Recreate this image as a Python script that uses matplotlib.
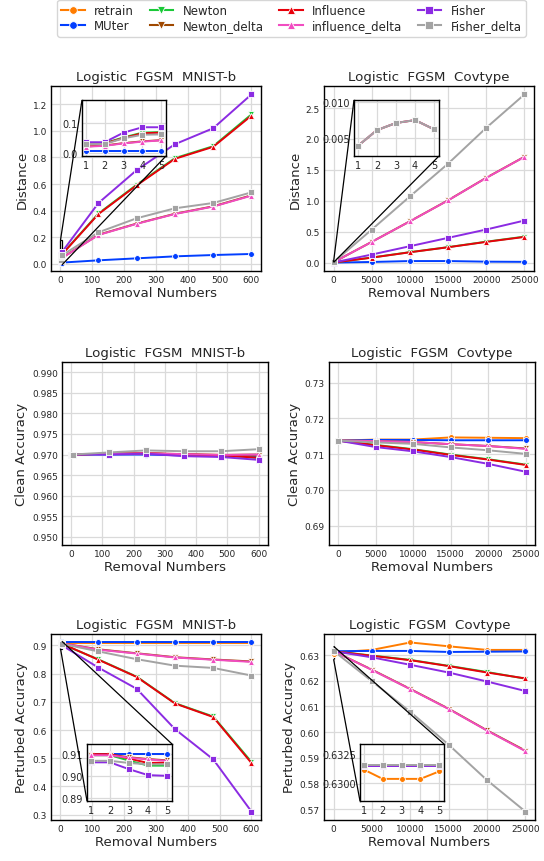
import matplotlib.pyplot as plt
from matplotlib.lines import Line2D
from mpl_toolkits.axes_grid1.inset_locator import mark_inset

W, H = 544, 862

methods = ['retrain', 'MUter', 'Newton', 'Newton_delta', 'Influence', 'influence_delta', 'Fisher', 'Fisher_delta']
colors = ['#ff7c00', '#023eff', '#1ac938', '#9f4800', '#e8000b', '#f14cc1', '#8b2be2', '#a3a3a3']
markers = ['o', 'o', 'v', 'v', '^', '^', 's', 's']

x_mnist = [1, 2, 3, 4, 5, 120, 240, 360, 480, 600]
x_cov = [1, 2, 3, 4, 5, 5000, 10000, 15000, 20000, 25000]

# Distance, MNIST-b (retrain is the reference, not drawn)
dist_mnist = {
    'MUter': [0.008, 0.008, 0.008, 0.008, 0.008, 0.025, 0.04, 0.055, 0.065, 0.073],
    'Newton': [0.031, 0.033, 0.052, 0.068, 0.07, 0.378, 0.595, 0.795, 0.885, 1.125],
    'Newton_delta': [0.022, 0.025, 0.033, 0.039, 0.043, 0.218, 0.302, 0.376, 0.432, 0.515],
    'Influence': [0.03, 0.032, 0.05, 0.066, 0.068, 0.374, 0.59, 0.79, 0.88, 1.115],
    'influence_delta': [0.021, 0.024, 0.032, 0.038, 0.042, 0.216, 0.30, 0.374, 0.43, 0.512],
    'Fisher': [0.036, 0.036, 0.068, 0.086, 0.086, 0.457, 0.705, 0.90, 1.02, 1.275],
    'Fisher_delta': [0.03, 0.03, 0.049, 0.061, 0.062, 0.236, 0.342, 0.417, 0.457, 0.537],
}

# Distance, Covtype
dist_cov = {
    'MUter': [0.00001, 0.00001, 0.00001, 0.00001, 0.00001, 0.01, 0.025, 0.025, 0.015, 0.012],
    'Newton': [0.0004, 0.0005, 0.0006, 0.0006, 0.0005, 0.082, 0.169, 0.25, 0.338, 0.42],
    'Newton_delta': [0.0039, 0.0061, 0.0071, 0.0075, 0.0062, 0.335, 0.668, 1.008, 1.372, 1.712],
    'Influence': [0.0004, 0.0005, 0.0006, 0.0006, 0.0005, 0.08, 0.167, 0.248, 0.335, 0.415],
    'influence_delta': [0.0039, 0.0061, 0.0071, 0.0075, 0.0062, 0.334, 0.667, 1.006, 1.37, 1.71],
    'Fisher': [0.001, 0.0012, 0.0014, 0.0015, 0.0013, 0.13, 0.265, 0.40, 0.535, 0.68],
    'Fisher_delta': [0.0039, 0.0061, 0.0071, 0.0075, 0.0062, 0.533, 1.07, 1.60, 2.18, 2.72],
}

# Clean accuracy, MNIST-b
clean_mnist = {
    'retrain': [0.970, 0.970, 0.970, 0.970, 0.970, 0.9702, 0.9703, 0.970, 0.9699, 0.9697],
    'MUter': [0.970, 0.970, 0.970, 0.970, 0.970, 0.970, 0.970, 0.9698, 0.9697, 0.9695],
    'Newton': [0.970, 0.970, 0.970, 0.970, 0.970, 0.9702, 0.9703, 0.970, 0.9698, 0.9692],
    'Newton_delta': [0.970, 0.970, 0.970, 0.970, 0.970, 0.9702, 0.9703, 0.9701, 0.9699, 0.970],
    'Influence': [0.970, 0.970, 0.970, 0.970, 0.970, 0.9702, 0.9703, 0.970, 0.9698, 0.9692],
    'influence_delta': [0.970, 0.970, 0.970, 0.970, 0.970, 0.9702, 0.9703, 0.9701, 0.9699, 0.970],
    'Fisher': [0.970, 0.970, 0.970, 0.970, 0.970, 0.970, 0.9702, 0.9696, 0.9694, 0.9687],
    'Fisher_delta': [0.970, 0.970, 0.970, 0.970, 0.970, 0.9705, 0.971, 0.9708, 0.9708, 0.9713],
}

# Clean accuracy, Covtype
clean_cov = {
    'retrain': [0.7138] * 5 + [0.7141, 0.7141, 0.7147, 0.7146, 0.7145],
    'MUter': [0.7138] * 5 + [0.714, 0.714, 0.7139, 0.7139, 0.7139],
    'Newton': [0.7138] * 5 + [0.7126, 0.7114, 0.7099, 0.7086, 0.7071],
    'Newton_delta': [0.7138] * 5 + [0.7137, 0.7134, 0.7128, 0.7123, 0.7116],
    'Influence': [0.7138] * 5 + [0.7125, 0.7113, 0.7098, 0.7085, 0.707],
    'influence_delta': [0.7138] * 5 + [0.7137, 0.7134, 0.7128, 0.7123, 0.7115],
    'Fisher': [0.7138] * 5 + [0.712, 0.7108, 0.7092, 0.7073, 0.7051],
    'Fisher_delta': [0.7138] * 5 + [0.7133, 0.7129, 0.7119, 0.7111, 0.7101],
}

# Perturbed accuracy, MNIST-b
pert_mnist = {
    'retrain': [0.9101] * 10,
    'MUter': [0.9103] * 10,
    'Newton': [0.9095, 0.9095, 0.9071, 0.9048, 0.9048, 0.850, 0.789, 0.695, 0.648, 0.487],
    'Newton_delta': [0.9098, 0.9098, 0.9086, 0.9078, 0.9072, 0.886, 0.872, 0.858, 0.850, 0.843],
    'Influence': [0.910, 0.910, 0.908, 0.906, 0.9062, 0.849, 0.788, 0.694, 0.646, 0.483],
    'influence_delta': [0.9095, 0.9095, 0.9084, 0.9076, 0.907, 0.8845, 0.871, 0.857, 0.849, 0.8415],
    'Fisher': [0.9063, 0.9063, 0.9032, 0.9005, 0.9002, 0.821, 0.746, 0.603, 0.496, 0.311],
    'Fisher_delta': [0.907, 0.907, 0.906, 0.9054, 0.9054, 0.8785, 0.851, 0.828, 0.820, 0.793],
}

# Perturbed accuracy, Covtype
pert_cov = {
    'retrain': [0.63116, 0.63034, 0.63034, 0.63034, 0.6310, 0.632, 0.6349, 0.6334, 0.632, 0.632],
    'MUter': [0.6315] * 5 + [0.6316, 0.6316, 0.6312, 0.6313, 0.6314],
    'Newton': [0.6315] * 5 + [0.6298, 0.6281, 0.6258, 0.6234, 0.6208],
    'Newton_delta': [0.6315] * 5 + [0.6243, 0.6168, 0.6091, 0.6007, 0.5928],
    'Influence': [0.6315] * 5 + [0.6297, 0.628, 0.6257, 0.6232, 0.6209],
    'influence_delta': [0.6315] * 5 + [0.6242, 0.6167, 0.609, 0.6006, 0.5926],
    'Fisher': [0.6315] * 5 + [0.6291, 0.6262, 0.6232, 0.6197, 0.616],
    'Fisher_delta': [0.6316] * 5 + [0.6198, 0.6079, 0.5951, 0.5813, 0.5691],
}

plt.rcParams['font.family'] = 'DejaVu Sans'
plt.rcParams['text.color'] = '#262626'
plt.rcParams['xtick.color'] = '#262626'
plt.rcParams['ytick.color'] = '#262626'
plt.rcParams['axes.labelcolor'] = '#262626'


def px(x0, y0, x1, y1):
    return [x0 / W, 1 - y1 / H, (x1 - x0) / W, (y1 - y0) / H]


def style(ax, fs=6.5):
    ax.grid(True, color='#dadada', linewidth=0.9)
    ax.set_axisbelow(True)
    for s in ax.spines.values():
        s.set_color('black')
        s.set_linewidth(1.0)
    ax.tick_params(length=0, labelsize=fs, pad=3)


def draw(ax, x, data, ms=4.2, lw=1.4):
    for m, c, mk in zip(methods, colors, markers):
        if m in data:
            ax.plot(x, data[m], color=c, marker=mk, markersize=ms, linewidth=lw,
                    markeredgecolor='white', markeredgewidth=0.6)


fig = plt.figure(figsize=(W / 100, H / 100), dpi=100)

panels = [
    (px(51, 87, 261, 272), x_mnist, dist_mnist, 'Distance', 'MNIST-b', None,
     [i * 0.2 for i in range(7)], '%.1f'),
    (px(324, 87, 534, 272), x_cov, dist_cov, 'Distance', 'Covtype', None,
     [i * 0.5 for i in range(6)], '%.1f'),
    (px(62, 363, 268, 546), x_mnist, clean_mnist, 'Clean Accuracy', 'MNIST-b', (0.948, 0.9925),
     [0.950 + i * 0.005 for i in range(9)], '%.3f'),
    (px(329, 363, 535, 546), x_cov, clean_cov, 'Clean Accuracy', 'Covtype', (0.6846, 0.7358),
     [0.69, 0.70, 0.71, 0.72, 0.73], '%.2f'),
    (px(51, 635, 261, 821), x_mnist, pert_mnist, 'Perturbed Accuracy', 'MNIST-b', None,
     [0.3 + i * 0.1 for i in range(7)], '%.1f'),
    (px(324, 635, 535, 821), x_cov, pert_cov, 'Perturbed Accuracy', 'Covtype', None,
     [0.57 + i * 0.01 for i in range(7)], '%.2f'),
]

axes = []
for rect, x, data, ylab, ds, ylim, yt, fmt in panels:
    ax = fig.add_axes(rect)
    style(ax)
    draw(ax, x, data)
    if ylim:
        ax.set_ylim(*ylim)
    ax.set_yticks(yt)
    ax.set_yticklabels([fmt % v for v in yt])
    if x is x_mnist:
        ax.set_xticks([0, 100, 200, 300, 400, 500, 600])
    else:
        ax.set_xticks([0, 5000, 10000, 15000, 20000, 25000])
    ax.set_title('Logistic  FGSM  ' + ds, fontsize=9.6, pad=4)
    ax.set_xlabel('Removal Numbers', fontsize=9.5, labelpad=1)
    ax.set_ylabel(ylab, fontsize=9.5, labelpad=3)
    axes.append(ax)

# zoomed insets on the first five removals
insets = [
    (0, px(82, 101, 166, 157), x_mnist, dist_mnist, (-0.01, 0.177), [0.0, 0.1], '%.1f', (2, 4)),
    (1, px(354, 101, 439, 157), x_cov, dist_cov, (0.0025, 0.0103), [0.005, 0.010], '%.3f', (2, 4)),
    (4, px(87, 745, 172, 802), x_mnist, pert_mnist, (0.8888, 0.9146), [0.89, 0.90, 0.91], '%.2f', (1, 3)),
    (5, px(360, 745, 444, 802), x_cov, pert_cov, (0.6284, 0.6334), [0.6300, 0.6325], '%.4f', (1, 3)),
]
for i, rect, x, data, ylim, yt, fmt, locs in insets:
    axin = fig.add_axes(rect)
    style(axin)
    draw(axin, x[:5], {k: v[:5] for k, v in data.items()})
    axin.set_xlim(0.8, 5.25)
    axin.set_ylim(*ylim)
    axin.set_xticks([1, 2, 3, 4, 5])
    axin.set_yticks(yt)
    axin.set_yticklabels([fmt % v for v in yt])
    axin.tick_params(labelsize=7)
    mark_inset(axes[i], axin, loc1=locs[0], loc2=locs[1], fc='none', ec='black', lw=0.9)

handles = [Line2D([], [], color=c, marker=mk, markersize=5.5, linewidth=1.5,
                  markeredgecolor='white', markeredgewidth=0.6)
           for c, mk in zip(colors, markers)]
fig.legend(handles, methods, loc='upper center', bbox_to_anchor=(291.5 / W, 1 - 1 / H),
           ncol=4, fontsize=8.5, frameon=True, edgecolor='#cccccc', handlelength=2.0,
           columnspacing=1.3, handletextpad=0.8, borderpad=0.35, labelspacing=0.2,
           borderaxespad=0)

fig.savefig('out.png', dpi=100)
